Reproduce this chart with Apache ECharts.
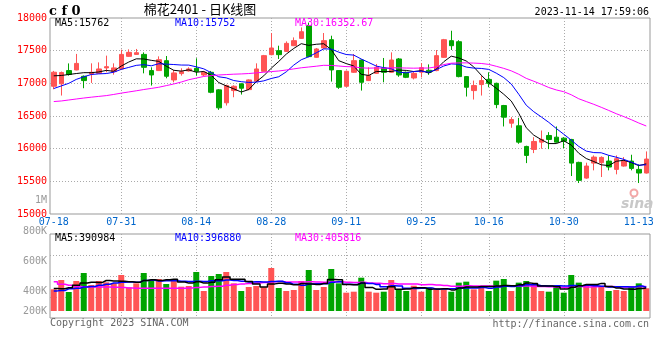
<!DOCTYPE html>
<html><head><meta charset="utf-8">
<script src="https://cdn.jsdelivr.net/npm/echarts@6/dist/echarts.min.js"></script>
<style>html,body{margin:0;padding:0;background:#fff}#c{width:660px;height:360px}</style>
</head><body><div id="c"></div>
<script>
const dates = ['07-18','07-19','07-20','07-21','07-24','07-25','07-26','07-27','07-28','07-31',
'08-01','08-02','08-03','08-04','08-07','08-08','08-09','08-10','08-11','08-14',
'08-15','08-16','08-17','08-18','08-21','08-22','08-23','08-24','08-25','08-28',
'08-29','08-30','08-31','09-01','09-04','09-05','09-06','09-07','09-08','09-11',
'09-12','09-13','09-14','09-15','09-18','09-19','09-20','09-21','09-22','09-25',
'09-26','09-27','09-28','10-09','10-10','10-11','10-12','10-13','10-16','10-17',
'10-18','10-19','10-20','10-23','10-24','10-25','10-26','10-27','10-30','10-31',
'11-01','11-02','11-03','11-06','11-07','11-08','11-09','11-10','11-13','11-14'];
const tickLabels = ['07-18','07-31','08-14','08-28','09-11','09-25','10-16','10-30','11-13'];
const gridDates = ['07-31','08-14','08-28','09-11','09-25','10-16','10-30'];

const opens = [16955,16992,17195,17205,17108,17144,17153,17236,17179,17220,
17413,17443,17443,17195,17195,17347,17052,17149,17190,17230,
17128,17169,16900,16702,16889,16992,16904,17031,17184,17439,
17500,17489,17576,17688,17882,17398,17541,17668,17195,16955,
17169,17357,17042,17153,17235,17169,17373,17169,17082,17170,
17200,17195,17398,17653,17637,17103,16889,16981,17060,17000,
16660,16390,16350,16034,15988,16100,16202,16176,16161,16141,
15790,15550,15779,15785,15810,15683,15734,15810,15683,15627];
const closes = [17170,17165,17135,17305,17042,17169,17220,17255,17236,17443,
17474,17469,17245,17128,17362,17108,17159,17179,17220,17184,
17169,16863,16625,16966,16955,16925,17052,17220,17424,17541,
17439,17612,17653,17790,17409,17526,17653,17205,16940,17184,
17347,17016,17118,17245,17169,17357,17128,17092,17153,17240,
17170,17424,17668,17576,17103,16940,16966,17042,17000,16675,
16482,16446,16100,15897,16110,16141,16141,16100,16115,15779,
15515,15734,15871,15866,15719,15846,15810,15698,15627,15841];
const lows = [16910,16813,17118,17200,16925,17006,17145,17169,17133,17210,
17405,17435,17153,16966,17190,17077,17016,17118,17180,17118,
17110,16848,16594,16660,16787,16828,16895,17025,17180,17430,
17373,17480,17570,17680,17400,17390,17530,17027,16915,16945,
17160,16889,17035,17145,17016,17160,17100,17080,17060,17090,
17130,17185,17390,17510,17092,16798,16752,16813,16940,16619,
16340,16320,16075,15779,15932,15999,15993,16090,16008,15581,
15474,15540,15668,15566,15668,15607,15725,15668,15474,15620];
const highs = [17190,17180,17305,17450,17120,17306,17321,17424,17306,17515,
17520,17526,17474,17245,17413,17418,17205,17230,17245,17383,
17185,17190,16910,16980,16970,17000,17060,17306,17435,17770,
17576,17642,17703,17856,17930,17540,17770,17729,17200,17195,
17449,17365,17245,17296,17388,17474,17388,17180,17175,17310,
17290,17510,17680,17805,17660,17110,17042,17118,17169,17010,
16670,16482,16472,16045,16176,16278,16253,16340,16176,16150,
15800,15785,15897,15882,15897,15897,15871,15907,15760,15958];

const ma5 = [17115,17120,17135,17150,17163,17163,17174,17198,17184,17265,
17326,17375,17373,17352,17336,17262,17200,17187,17206,17170,
17182,17123,17012,16961,16916,16867,16905,17024,17115,17232,
17335,17447,17534,17607,17581,17598,17606,17517,17347,17302,
17266,17138,17121,17182,17179,17181,17203,17198,17180,17194,
17157,17216,17331,17416,17388,17342,17251,17125,17010,16925,
16833,16729,16541,16320,16207,16139,16078,16078,16121,16055,
15930,15849,15803,15753,15741,15807,15822,15788,15740,15768];
const ma10 = [16920,16960,17000,17060,17100,17135,17145,17150,17170,17214,
17244,17275,17286,17268,17300,17294,17288,17280,17279,17253,
17222,17162,17100,17084,17043,17025,17014,17018,17038,17074,
17101,17176,17279,17361,17407,17467,17527,17525,17477,17441,
17432,17372,17319,17264,17240,17223,17171,17160,17181,17187,
17169,17210,17265,17298,17291,17249,17233,17228,17213,17156,
17088,16990,16833,16665,16566,16486,16403,16309,16221,16131,
16034,15963,15940,15937,15898,15869,15836,15795,15747,15753];
const ma30 = [16721,16730,16745,16760,16775,16788,16800,16812,16830,16850,
16868,16886,16905,16922,16940,16965,16990,17020,17055,17080,
17105,17118,17128,17134,17140,17144,17150,17160,17170,17180,
17189,17204,17221,17238,17250,17262,17276,17274,17265,17256,
17252,17237,17232,17236,17230,17238,17237,17234,17232,17234,
17234,17253,17287,17308,17313,17313,17310,17304,17290,17261,
17229,17191,17139,17076,17032,16986,16936,16899,16872,16825,
16764,16721,16679,16633,16585,16535,16491,16444,16393,16347];

// volume in thousands
const volume = [372,531,326,514,651,446,514,491,474,617,
406,474,651,531,549,463,531,417,429,669,
343,600,634,669,474,343,411,429,406,737,
394,343,360,514,703,360,411,720,474,314,
331,571,331,314,331,531,360,343,434,331,
406,371,371,331,486,503,371,406,343,520,
549,343,486,514,463,343,331,429,314,617,
486,429,417,417,343,360,343,406,474,389];
const volMa5 = [385,380,400,440,479,494,490,523,515,508,
500,492,524,536,522,534,545,498,478,502,
478,492,535,583,544,544,506,465,413,465,
475,462,448,470,463,456,470,542,534,456,
450,482,404,372,376,416,373,376,400,400,
375,377,383,362,393,412,412,419,422,429,
438,432,448,482,471,430,427,416,376,407,
435,455,453,473,418,393,376,374,385,394];
const volMa10 = [345,350,380,390,410,420,440,460,480,494,
497,491,524,526,515,517,519,511,507,512,
506,518,517,530,523,511,499,500,498,505,
510,484,457,441,464,466,466,495,502,459,
453,476,473,453,416,433,428,390,386,388,
395,375,379,381,396,394,395,401,392,411,
425,422,434,452,450,434,430,432,429,439,
433,441,434,425,413,414,416,413,429,406];
const volMa30 = [500,460,440,420,415,412,410,410,408,405,
395,392,390,390,388,390,390,392,395,405,
412,418,425,440,455,465,470,480,490,503,
504,498,499,499,501,498,494,502,502,492,
489,493,482,475,468,470,464,462,462,451,
453,445,436,425,425,431,429,429,427,419,
424,424,429,429,421,420,417,408,402,412,
418,413,416,419,420,414,413,415,417,419];
const volAxisLabels = ['1M','800K','600K','400K','200K'];

const MONO = '"DejaVu Sans Mono", monospace';
const RED = '#ff5454', GREEN = '#00a400';
const isUp = closes.map((c, i) => c >= opens[i]);
const showLabel = i => tickLabels.indexOf(dates[i]) >= 0;
const showGrid = i => gridDates.indexOf(dates[i]) >= 0;
const dotted = { color: '#aaa', type: [1, 2], width: 1 };

const volLabelY = [200.5, 231, 261.5, 291, 311];
const texts = [
  { text: 'c f 0', x: 49, y: 11.5, font: 'bold 13px "DejaVu Serif"', fill: '#000' },
  { text: '棉花2401 - 日K线图', x: 200, y: 9, align: 'center', font: '13px "Noto Sans CJK SC"', fill: '#000' },
  { text: '2023-11-14 17:59:06', x: 649, y: 12, align: 'right', font: '10px ' + MONO, fill: '#000' },
  { text: 'MA5:15762', x: 55, y: 23.5, font: '10px ' + MONO, fill: '#000' },
  { text: 'MA10:15752', x: 175, y: 23.5, font: '10px ' + MONO, fill: '#0000ff' },
  { text: 'MA30:16352.67', x: 295, y: 23.5, font: '10px ' + MONO, fill: '#ff00ff' },
  { text: 'MA5:390984', x: 55, y: 238.5, font: '10px ' + MONO, fill: '#000' },
  { text: 'MA10:396880', x: 175, y: 238.5, font: '10px ' + MONO, fill: '#0000ff' },
  { text: 'MA30:405816', x: 295, y: 238.5, font: '10px ' + MONO, fill: '#ff00ff' },
  { text: 'Copyright 2023 SINA.COM', x: 50, y: 323, font: '10px ' + MONO, fill: '#666' },
  { text: 'http://finance.sina.com.cn', x: 649, y: 324, align: 'right', font: '10px ' + MONO, fill: '#666' },
  { text: 'sina', x: 621, y: 204, font: 'italic bold 14px "DejaVu Sans"', fill: '#c8c8c8' }
];
volAxisLabels.forEach((t, i) => texts.push({ text: t, x: 47, y: volLabelY[i], align: 'right', font: '10px ' + MONO, fill: '#999' }));

const graphic = texts.map(t => ({
  type: 'text', x: t.x, y: t.y, z: 10,
  style: { text: t.text, fill: t.fill, font: t.font, align: t.align || 'left', verticalAlign: 'middle' }
}));
graphic.push({ type: 'circle', shape: { cx: 634, cy: 193, r: 3.5 }, style: { fill: 'none', stroke: '#f3a6a6', lineWidth: 2 }, z: 10 });

const chart = echarts.init(document.getElementById('c'));
chart.setOption({
  animation: false,
  backgroundColor: '#fff',
  graphic: graphic,
  grid: [
    { left: 50, right: 10, top: 18, height: 196, show: true, borderColor: '#999', borderWidth: 1 },
    { left: 50, right: 10, top: 234, height: 84, show: true, borderColor: '#999', borderWidth: 1 }
  ],
  xAxis: [
    { type: 'category', gridIndex: 0, data: dates, boundaryGap: true,
      axisLine: { show: false }, axisTick: { show: false },
      axisLabel: { interval: (i) => showLabel(i), color: '#0066cc', fontFamily: MONO, fontSize: 10, margin: 3 },
      splitLine: { show: true, interval: (i) => showGrid(i), alignWithLabel: true, lineStyle: dotted } },
    { type: 'category', gridIndex: 1, data: dates, boundaryGap: true,
      axisLine: { show: false }, axisTick: { show: false }, axisLabel: { show: false },
      splitLine: { show: true, interval: (i) => showGrid(i), alignWithLabel: true, lineStyle: dotted } }
  ],
  yAxis: [
    { type: 'value', gridIndex: 0, min: 15000, max: 18000, interval: 500,
      axisLine: { show: false }, axisTick: { show: false },
      axisLabel: { color: '#ff0000', fontFamily: MONO, fontSize: 10, margin: 3, padding: [0, 0, 4, 0], formatter: (v) => String(v) },
      splitLine: { show: true, lineStyle: { color: ['transparent', '#aaa', '#aaa', '#aaa', '#aaa', '#aaa', 'transparent'], type: [1, 2], width: 1 } } },
    { type: 'value', gridIndex: 1, min: -120, max: 1320, interval: 360,
      axisLine: { show: false }, axisTick: { show: false }, axisLabel: { show: false },
      splitLine: { show: true, lineStyle: { color: ['transparent', '#aaa', '#aaa', '#aaa', 'transparent'], type: [1, 2], width: 1 } } }
  ],
  series: [
    { type: 'candlestick', xAxisIndex: 0, yAxisIndex: 0, barWidth: 5,
      data: dates.map((d, i) => [opens[i], closes[i], lows[i], highs[i]]),
      itemStyle: { color: RED, color0: GREEN, borderColor: RED, borderColor0: GREEN, borderWidth: 1 } },
    { type: 'line', xAxisIndex: 0, yAxisIndex: 0, data: ma5, symbol: 'none', lineStyle: { color: '#000', width: 1 } },
    { type: 'line', xAxisIndex: 0, yAxisIndex: 0, data: ma10, symbol: 'none', lineStyle: { color: '#0000ff', width: 1 } },
    { type: 'line', xAxisIndex: 0, yAxisIndex: 0, data: ma30, symbol: 'none', lineStyle: { color: '#ff00ff', width: 1 } },
    { type: 'bar', xAxisIndex: 1, yAxisIndex: 1, barWidth: 6,
      data: volume.map((v, i) => ({ value: v, itemStyle: { color: isUp[i] ? RED : GREEN } })) },
    { type: 'line', xAxisIndex: 1, yAxisIndex: 1, data: volMa30, step: 'middle', symbol: 'none', lineStyle: { color: '#ff00ff', width: 1.5 } },
    { type: 'line', xAxisIndex: 1, yAxisIndex: 1, data: volMa10, step: 'middle', symbol: 'none', lineStyle: { color: '#0000ff', width: 1.5 } },
    { type: 'line', xAxisIndex: 1, yAxisIndex: 1, data: volMa5, step: 'middle', symbol: 'none', lineStyle: { color: '#000', width: 1.5 } }
  ]
});
</script></body></html>
